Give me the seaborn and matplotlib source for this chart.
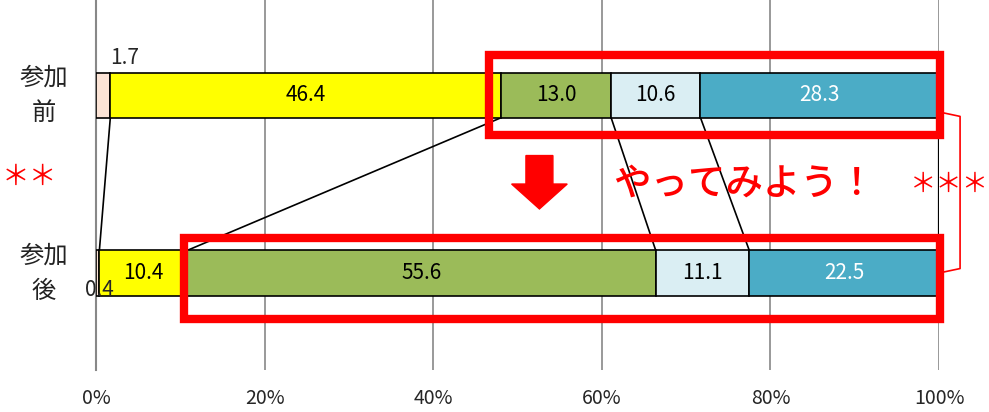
import numpy as np
import pandas as pd
import matplotlib
matplotlib.use("Agg")
import matplotlib.pyplot as plt
from matplotlib.patches import FancyArrow, Rectangle
import seaborn as sns

# data
groups = ["参加\n前", "参加\n後"]
before = [1.7, 46.4, 13.0, 10.6, 28.3]
after = [0.4, 10.4, 55.6, 11.1, 22.5]
colors = ["#FCE4D6", "#FFFF00", "#9BBB59", "#DAEEF3", "#4BACC6"]
text_colors = ["black", "black", "black", "black", "white"]
ticks = [0, 20, 40, 60, 80, 100]

sns.set_style("white")
plt.rcParams['font.family'] = ['Noto Sans CJK JP', 'DejaVu Sans']

fig = plt.figure(figsize=(9.89, 4.12), dpi=100)
ax = fig.add_axes([96 / 989, 42 / 412, (939 - 96) / 989, 370 / 412])

rows = [before, after]
h = 0.253
for i, vals in enumerate(rows):
    left = np.concatenate([[0], np.cumsum(vals)[:-1]])
    ax.barh([i] * len(vals), vals, left=left, height=h, color=colors,
            edgecolor="black", linewidth=1.2, zorder=3)
    for j, (l, v) in enumerate(zip(left, vals)):
        if v < 3:
            continue
        ax.text(l + v / 2, i, f"{v:.1f}", ha="center", va="center",
                fontsize=15, color=text_colors[j], zorder=5)

# small segment labels
ax.text(before[0] / 2 + 2.5, -h / 2 - 0.02, f"{before[0]:.1f}", ha="center",
        va="bottom", fontsize=15, zorder=5)
ax.text(after[0] / 2 + 0.2, 1 + h / 2 - 0.03, f"{after[0]:.1f}", ha="center",
        va="center", fontsize=15, zorder=5)

# series lines between bars
cb = np.cumsum(before)
ca = np.cumsum(after)
for k in range(len(before) - 1):
    ax.plot([cb[k], ca[k]], [h / 2, 1 - h / 2], color="black", lw=1.2, zorder=2)
ax.plot([100, 100], [h / 2, 1 - h / 2], color="black", lw=1.6, zorder=2)

# red frames
ax.add_patch(Rectangle((46.6, -h / 2 - 0.1), 100.1 - 46.6, h + 0.2, fill=False,
                       edgecolor="red", lw=6, zorder=6, clip_on=False))
ax.add_patch(Rectangle((10.4, 1 - h / 2 - 0.07), 100.1 - 10.4, h + 0.2, fill=False,
                       edgecolor="red", lw=6, zorder=6, clip_on=False))

# arrow and text
ax.add_patch(FancyArrow(52.6, 0.34, 0, 0.3, width=3.2, head_width=6.6,
                        head_length=0.14, color="red", zorder=6,
                        length_includes_head=True))
ax.text(61.3, 0.5, "やってみよう！", color="red", fontsize=27, ha="left",
        va="center", fontweight="medium", zorder=6)

# significance marks
ax.text(-11.2, 0.46, "＊＊", color="red", fontsize=20, ha="left", va="center",
        clip_on=False)
ax.text(101.2, 0.5, "＊＊＊", color="red", fontsize=19, ha="center", va="center",
        clip_on=False, zorder=7)
ax.plot([100.5, 102.5, 102.5, 100.5], [0.1, 0.12, 0.975, 0.995], color="red",
        lw=1.2, clip_on=False)

ax.set_xlim(0, 100)
ax.set_ylim(1.545, -0.534)
ax.set_xticks(ticks)
ax.set_xticklabels([f"{t}%" for t in ticks], fontsize=14)
ax.set_yticks([0, 1])
ax.set_yticklabels([])
for i, g in enumerate(groups):
    ax.text(-6.2, i, g, ha="center", va="center", fontsize=17.5,
            linespacing=1.45, color="#222222")
ax.tick_params(axis="y", length=0)
ax.tick_params(axis="x", length=4, color="#888888", pad=9)
ax.grid(axis="x", color="#888888", lw=1.2, zorder=0)
for s in ["top", "right", "bottom"]:
    ax.spines[s].set_visible(False)
ax.spines["left"].set_color("#888888")
ax.spines["left"].set_linewidth(1.5)

fig.savefig("out.png", dpi=100)
